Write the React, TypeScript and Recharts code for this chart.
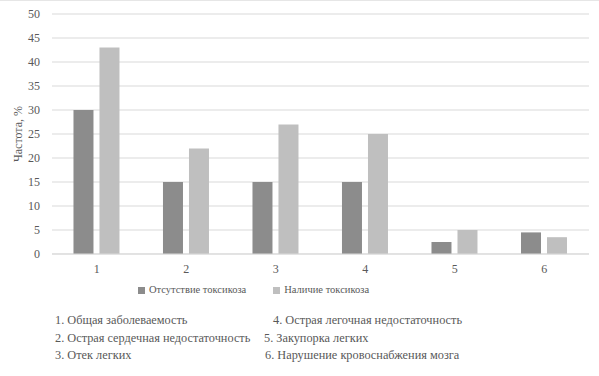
import React from 'react';
import { BarChart, Bar, XAxis, YAxis, CartesianGrid, Legend } from 'recharts';

const categories = ['1', '2', '3', '4', '5', '6'];
const absentValues = [30, 15, 15, 15, 2.5, 4.5];
const presentValues = [43, 22, 27, 25, 5, 3.5];
const yTicks = [0, 5, 10, 15, 20, 25, 30, 35, 40, 45, 50];
const seriesNames = ['Отсутствие токсикоза', 'Наличие токсикоза'];
const notesLeft = ['1. Общая заболеваемость', '2. Острая сердечная недостаточность', '3. Отек легких'];
const notesRight = ['4. Острая легочная недостаточность', '5. Закупорка легких', '6. Нарушение кровоснабжения мозга'];

const data = categories.map((c, i) => ({ name: c, absent: absentValues[i], present: presentValues[i] }));

const FONT = '"Liberation Serif", "Times New Roman", serif';
const TEXT = '#595959';
const rightLefts = [273, 264, 265];

export default function App() {
  return (
    <div style={{ position: 'absolute', left: 0, top: 0, width: 599, height: 376, background: '#fff', fontFamily: FONT, borderTop: '1px solid #e6e6e6', boxSizing: 'border-box' }}>
      <BarChart
        width={599}
        height={375}
        data={data}
        margin={{ top: 13, right: 10, left: 0, bottom: 92 }}
        barCategoryGap="24%"
        barGap={6}
      >
        <CartesianGrid vertical={false} stroke="#d9d9d9" />
        <XAxis
          dataKey="name"
          axisLine={{ stroke: '#d9d9d9' }}
          tickLine={false}
          tickSize={0}
          tickMargin={10}
          height={30}
          tick={{ fill: TEXT, fontSize: 12, fontFamily: FONT }}
        />
        <YAxis
          width={52}
          domain={[0, 50]}
          ticks={yTicks}
          axisLine={false}
          tickLine={false}
          tickSize={0}
          tickMargin={12}
          tick={{ fill: TEXT, fontSize: 12, fontFamily: FONT }}
          label={{ value: 'Частота, %', angle: -90, position: 'center', dx: -8, fill: TEXT, fontSize: 12, fontFamily: FONT }}
        />
        <Legend
          layout="horizontal"
          verticalAlign="middle"
          align="center"
          iconType="square"
          iconSize={7}
          itemSorter="dataKey"
          wrapperStyle={{ position: 'absolute', top: 283, left: 107, width: 320, fontSize: 10.5, fontFamily: FONT, color: TEXT, whiteSpace: 'nowrap' }}
          formatter={(v: string) => <span style={{ color: TEXT, marginRight: 17, fontFamily: FONT }}>{v}</span>}
        />
        <Bar dataKey="absent" name={seriesNames[0]} fill="#8c8c8c" isAnimationActive={false} />
        <Bar dataKey="present" name={seriesNames[1]} fill="#bfbfbf" isAnimationActive={false} />
      </BarChart>
      {notesLeft.map((t, i) => (
        <div key={'l' + i} style={{ position: 'absolute', left: 55, top: 310 + i * 17.5, fontSize: 12.3, color: TEXT, whiteSpace: 'nowrap', lineHeight: '18px' }}>{t}</div>
      ))}
      {notesRight.map((t, i) => (
        <div key={'r' + i} style={{ position: 'absolute', left: rightLefts[i], top: 310 + i * 17.5, fontSize: 12.3, color: TEXT, whiteSpace: 'nowrap', lineHeight: '18px' }}>{t}</div>
      ))}
    </div>
  );
}
